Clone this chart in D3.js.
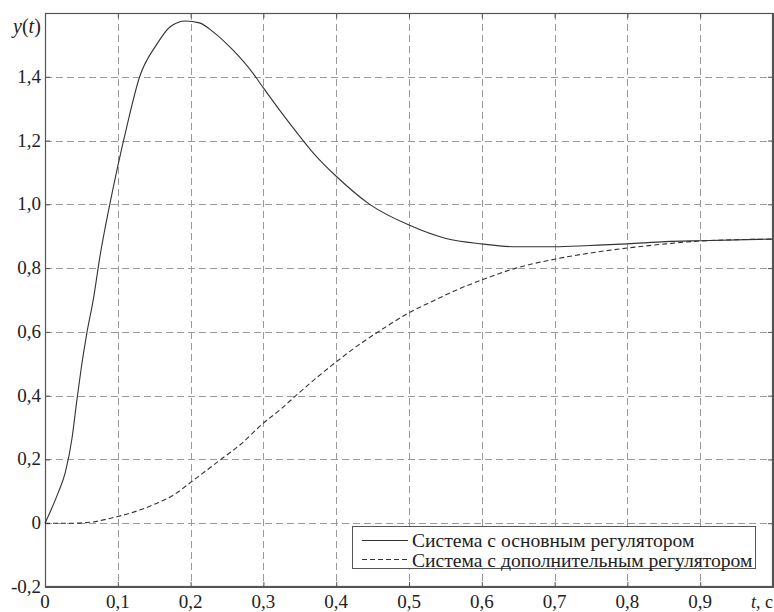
<!DOCTYPE html>
<html><head><meta charset="utf-8">
<script src="https://cdn.jsdelivr.net/npm/d3@7"></script>
<style>
body{margin:0;background:#fff;}
svg{display:block;}
</style></head>
<body>
<svg id="c" width="774" height="612"></svg>
<script>
const xTicks = [0,0.1,0.2,0.3,0.4,0.5,0.6,0.7,0.8,0.9];
const xTickLabels = ["0","0,1","0,2","0,3","0,4","0,5","0,6","0,7","0,8","0,9"];
const yTicks = [-0.2,0,0.2,0.4,0.6,0.8,1.0,1.2,1.4];
const yTickLabels = ["-0,2","0","0,2","0,4","0,6","0,8","1,0","1,2","1,4"];
const seriesNames = ["Система с основным регулятором","Система с дополнительным регулятором"];

const solidT = [0,0.018,0.028,0.037,0.044,0.05,0.057,0.067,0.075,0.089,0.1,0.112,0.13,0.153,0.172,0.193,0.212,0.231,0.258,0.286,0.3,0.322,0.35,0.372,0.4,0.446,0.5,0.551,0.6,0.647,0.7,0.748,0.8,0.853,0.9,1.0];
const solidY = [0,0.095,0.16,0.265,0.39,0.49,0.59,0.71,0.83,1.0,1.12,1.24,1.40,1.50,1.557,1.575,1.569,1.541,1.484,1.41,1.365,1.296,1.213,1.152,1.088,1.0,0.935,0.893,0.876,0.867,0.867,0.871,0.876,0.883,0.886,0.891];
const dashedT = [0,0.039,0.057,0.066,0.085,0.1,0.131,0.154,0.177,0.2,0.241,0.268,0.3,0.323,0.346,0.374,0.4,0.429,0.459,0.5,0.534,0.569,0.6,0.647,0.7,0.748,0.8,0.853,0.9,1.0];
const dashedY = [0,0,0.002,0.004,0.013,0.021,0.042,0.063,0.089,0.128,0.199,0.246,0.314,0.356,0.403,0.458,0.506,0.556,0.602,0.66,0.698,0.735,0.763,0.8,0.828,0.847,0.863,0.876,0.885,0.891];

const FONT = '"Liberation Serif","Times New Roman","DejaVu Serif","Noto Serif",serif';
const L=45, R=773, T=13, B=587;
const svg = d3.select("#c");
const x = d3.scaleLinear().domain([0,1]).range([L,R]);
const y = d3.scaleLinear().domain([-0.2,1.6]).range([B,T]);

// grid
const grid = svg.append("g").attr("stroke","#9a9a9a").attr("stroke-width",1).attr("stroke-dasharray","7,4");
grid.selectAll("line.v").data(xTicks.slice(1)).join("line")
  .attr("x1",d=>Math.round(x(d))+0.5).attr("x2",d=>Math.round(x(d))+0.5).attr("y1",T).attr("y2",B);
grid.selectAll("line.h").data(yTicks.slice(1)).join("line")
  .attr("y1",d=>Math.round(y(d))+0.5).attr("y2",d=>Math.round(y(d))+0.5).attr("x1",L).attr("x2",R);

// axes with inward ticks
const axB = d3.axisBottom(x).tickValues(xTicks).tickSize(-5).tickFormat("");
const axT = d3.axisTop(x).tickValues(xTicks).tickSize(-5).tickFormat("");
const axL = d3.axisLeft(y).tickValues(yTicks).tickSize(-5).tickFormat("");
const axR = d3.axisRight(y).tickValues(yTicks).tickSize(-5).tickFormat("");
[[axB,`translate(0,${B})`],[axT,`translate(0,${T})`],[axL,`translate(${L},0)`],[axR,`translate(${R},0)`]].forEach(([a,tr])=>{
  const g = svg.append("g").attr("transform",tr).call(a);
  g.selectAll("path,line").attr("stroke","#555");
});
svg.append("rect").attr("x",L+0.5).attr("y",T+0.5).attr("width",R-L-1).attr("height",B-T-1)
  .attr("fill","none").attr("stroke","#555").attr("stroke-width",1.2);

// tick labels
svg.append("g").selectAll("text").data(xTicks).join("text")
  .attr("x",d=>x(d)).attr("y",608).attr("text-anchor","middle")
  .attr("font-family",FONT).attr("font-size",19).attr("fill","#222")
  .text((d,i)=>xTickLabels[i]);
svg.append("g").selectAll("text").data(yTicks).join("text")
  .attr("x",41).attr("y",d=>y(d)+6).attr("text-anchor","end")
  .attr("font-family",FONT).attr("font-size",19).attr("fill","#222")
  .text((d,i)=>yTickLabels[i]);

// axis titles
const yl = svg.append("text").attr("x",13).attr("y",33).attr("font-family",FONT).attr("font-size",20).attr("fill","#222");
yl.append("tspan").attr("font-style","italic").text("y");
yl.append("tspan").text("(");
yl.append("tspan").attr("font-style","italic").text("t");
yl.append("tspan").text(")");
const xl = svg.append("text").attr("x",751).attr("y",608).attr("font-family",FONT).attr("font-size",18).attr("fill","#222");
xl.append("tspan").attr("font-style","italic").text("t");
xl.append("tspan").text(", с");

// curves
const line = d3.line().x(d=>x(d[0])).y(d=>y(d[1])).curve(d3.curveMonotoneX);
const solid = solidT.map((t,i)=>[t,solidY[i]]);
const dashed = dashedT.map((t,i)=>[t,dashedY[i]]);
svg.append("path").datum(dashed).attr("d",line).attr("fill","none").attr("stroke","#333").attr("stroke-width",1.1).attr("stroke-dasharray","5,3");
svg.append("path").datum(solid).attr("d",line).attr("fill","none").attr("stroke","#333").attr("stroke-width",1.1);

// legend
const lg = svg.append("g");
lg.append("rect").attr("x",352.5).attr("y",526.5).attr("width",403).attr("height",42)
  .attr("fill","#fff").attr("stroke","#555").attr("stroke-width",1);
lg.append("line").attr("x1",362).attr("x2",408).attr("y1",540.5).attr("y2",540.5).attr("stroke","#333").attr("stroke-width",1.1);
lg.append("line").attr("x1",362).attr("x2",408).attr("y1",559.5).attr("y2",559.5).attr("stroke","#333").attr("stroke-width",1.1).attr("stroke-dasharray","5,3");
lg.selectAll("text").data(seriesNames).join("text")
  .attr("x",412).attr("y",(d,i)=>547+i*19.5)
  .attr("font-family",FONT).attr("font-size",19.6).attr("fill","#222").text(d=>d);
</script>
</body></html>
